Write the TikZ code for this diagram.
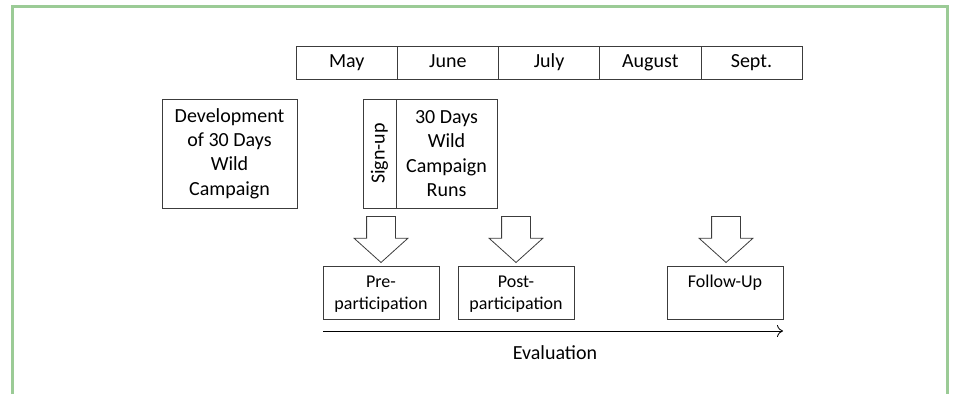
\documentclass[tikz,border=0pt]{standalone}
\usepackage{fontspec}
\setmainfont{Carlito}
\usepackage{tikz}
\usetikzlibrary{shapes.arrows,arrows.meta}
\definecolor{framegreen}{RGB}{155,203,150}
\definecolor{boxline}{RGB}{60,60,60}
\begin{document}
\begin{tikzpicture}[x=1pt,y=-1pt]
\tikzstyle{month}=[draw=boxline,line width=0.8pt,minimum width=101.2pt,minimum height=33pt,inner sep=0pt,text height=14pt,text depth=4pt,font=\fontsize{20}{24.4}\selectfont];
\tikzstyle{tall}=[draw=boxline,line width=0.8pt,minimum height=109pt,inner sep=0pt,align=center,font=\fontsize{20}{24.4}\selectfont];
\tikzstyle{evalbox}=[draw=boxline,line width=0.8pt,minimum width=116pt,inner xsep=0pt,inner ysep=6.5pt,align=center,font=\fontsize{18}{21.6}\selectfont];
\tikzstyle{twoline}=[text height=36.6pt,text depth=3.4pt];
\tikzstyle{oneline}=[text height=15pt,text depth=25pt];
\tikzstyle{blockarrow}=[draw=boxline,line width=0.8pt,single arrow,rotate=-90,minimum height=46pt,minimum width=53pt,single arrow head extend=12.5pt,single arrow tip angle=96,inner xsep=0pt,inner ysep=14pt];
\useasboundingbox (0,0) rectangle (953,394);
\draw[framegreen,line width=3pt] (12,394) -- (12,6.5) -- (947,6.5) -- (947,394);
% timeline of months
\foreach \m [count=\i] in {May,June,July,August,Sept.}
{
\path (245.5+101.2*\i,62.5) node[month] (m\i) {\m};
}
\path (229.5,153.5) node[tall,minimum width=135pt] (dev) {Development\\of 30 Days\\Wild\\Campaign};
\path (379.5,153.5) node[tall,rotate=90,minimum width=109pt,minimum height=33pt] (sign) {Sign-up};
\path (446.5,153.5) node[tall,minimum width=101pt] (runs) {30 Days\\Wild\\Campaign\\Runs};
% evaluation points
\path (381,233) node[blockarrow] (a1) {};
\path (516,233) node[blockarrow] (a2) {};
\path (726,233) node[blockarrow] (a3) {};
\path (381,292.5) node[evalbox,twoline] (pre) {Pre-\\participation};
\path (516,292.5) node[evalbox,twoline] (post) {Post-\\participation};
\path (725,292.5) node[evalbox,oneline] (follow) {Follow-Up};
\coordinate (e0) at (323,331);
\coordinate (e1) at (783,331);
\draw[line width=0.8pt,-{To[length=6pt,width=12pt]}] (e0) -- (e1);
\path (555,353) node[font=\fontsize{20}{24.4}\selectfont] (evl) {Evaluation};
\end{tikzpicture}
\end{document}
